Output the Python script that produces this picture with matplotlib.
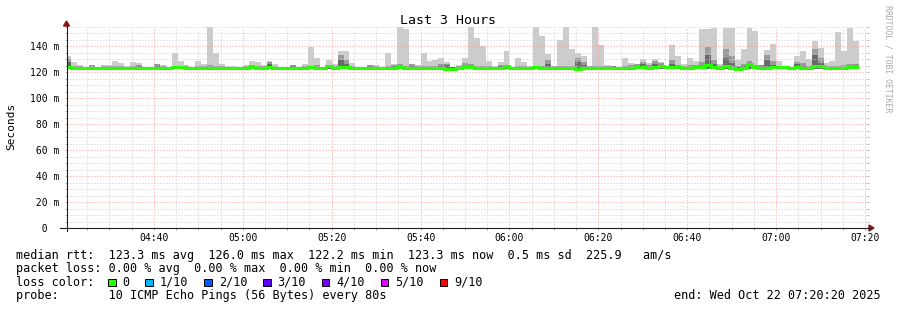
import numpy as np
import matplotlib
matplotlib.use('Agg')
import matplotlib.pyplot as plt
from matplotlib.lines import Line2D
from matplotlib.patches import Rectangle, Polygon

# SmokePing "Last 3 Hours" graph, times in minutes after 04:00
t_start = 20 + 20 / 60      # 04:20:20
t_end = 200 + 20 / 60       # 07:20:20
step_start = 20.0           # first 80 s step starts 04:20:00
step_len = 80 / 60

# smoke (spread of the 10 pings) per 80 s step, in ms
rtt_hi = [
    132.5, 128.0, 125.5, 124.0, 125.5, 124.0, 125.5, 125.5, 128.7, 127.0,
    124.5, 127.6, 127.0, 124.0, 124.0, 126.4, 125.5, 124.0, 134.4, 128.7,
    125.6, 124.0, 128.7, 126.0, 154.4, 134.9, 126.0, 124.5, 124.6, 124.0,
    125.5, 128.7, 127.6, 125.5, 128.2, 126.0, 124.0, 124.0, 125.5, 124.0,
    126.0, 139.5, 131.0, 124.0, 129.0, 126.4, 136.2, 136.2, 127.0, 124.0,
    124.0, 125.5, 125.5, 124.0, 134.4, 126.0, 154.4, 153.4, 126.4, 125.6,
    135.0, 128.7, 129.0, 130.5, 128.0, 124.0, 125.5, 130.5, 154.4, 146.0,
    140.0, 128.7, 124.6, 128.0, 136.4, 124.0, 130.8, 128.0, 124.6, 154.4,
    148.0, 134.0, 124.6, 144.6, 154.4, 138.0, 134.4, 132.0, 124.6, 154.4,
    140.8, 125.5, 125.0, 124.0, 131.0, 127.0, 126.4, 130.0, 127.0, 129.7,
    128.0, 124.0, 140.8, 132.0, 126.4, 131.0, 128.7, 153.4, 153.4, 153.6,
    126.5, 153.6, 153.6, 129.0, 138.0, 154.0, 151.6, 125.5, 137.0, 141.5,
    128.5, 125.0, 124.0, 132.3, 136.2, 130.0, 144.0, 138.5, 126.6, 128.7,
    151.0, 135.8, 154.0, 143.5,
]
rtt_mid = [
    130.0, 125.0, 124.5, 124.2, 125.5, 124.2, 124.5, 124.5, 125.0, 124.5,
    124.2, 125.0, 125.5, 124.2, 124.2, 126.4, 125.0, 124.2, 125.0, 124.5,
    124.5, 124.2, 125.0, 124.5, 125.5, 125.0, 124.5, 124.2, 124.2, 124.2,
    124.5, 125.5, 124.5, 124.8, 128.0, 124.5, 124.2, 124.2, 125.5, 124.2,
    124.5, 125.0, 125.5, 124.2, 125.0, 124.5, 133.0, 129.0, 125.0, 124.2,
    124.2, 125.5, 124.5, 124.2, 125.0, 125.5, 126.0, 125.0, 126.0, 124.5,
    125.0, 124.5, 125.0, 126.5, 126.5, 124.2, 124.5, 127.0, 126.0, 125.0,
    124.5, 124.5, 124.2, 125.5, 125.0, 124.2, 125.0, 124.5, 124.2, 125.0,
    125.0, 129.0, 124.5, 125.0, 125.0, 125.0, 130.5, 128.0, 124.5, 125.0,
    125.0, 124.5, 125.0, 124.2, 125.0, 125.5, 126.0, 127.5, 125.5, 128.7,
    127.0, 124.2, 129.0, 125.5, 125.0, 125.5, 125.5, 128.0, 139.0, 129.0,
    124.5, 137.8, 132.0, 125.0, 126.5, 128.6, 125.5, 125.5, 133.0, 128.6,
    124.5, 124.2, 124.2, 128.0, 127.0, 125.0, 137.7, 131.0, 124.5, 125.0,
    125.0, 125.5, 126.0, 126.0,
]
rtt_dark = [
    128.0, 123.8, 123.8, 123.8, 124.2, 123.8, 123.8, 123.8, 124.0, 123.8,
    123.8, 124.0, 124.5, 123.8, 123.8, 125.0, 124.0, 123.8, 124.0, 123.8,
    123.8, 123.8, 124.0, 123.8, 124.0, 124.0, 123.8, 123.8, 123.8, 123.8,
    123.8, 124.0, 123.8, 124.0, 126.0, 123.8, 123.8, 123.8, 124.5, 123.8,
    123.8, 124.0, 124.0, 123.8, 124.0, 123.8, 129.0, 126.0, 124.0, 123.8,
    123.8, 124.5, 123.8, 123.8, 124.0, 124.5, 124.5, 124.0, 125.0, 123.8,
    124.0, 123.8, 124.0, 125.0, 125.5, 123.8, 123.8, 125.0, 124.5, 124.0,
    123.8, 123.8, 123.8, 124.5, 124.0, 123.8, 124.0, 123.8, 123.8, 124.0,
    124.0, 126.0, 123.8, 124.0, 124.0, 124.0, 128.0, 125.5, 123.8, 124.0,
    124.0, 123.8, 124.5, 123.8, 124.0, 124.0, 125.0, 126.0, 124.0, 126.0,
    125.5, 123.8, 126.0, 124.0, 124.0, 124.0, 124.0, 125.0, 133.0, 126.0,
    123.8, 131.0, 127.0, 124.0, 125.0, 126.0, 124.0, 124.5, 129.0, 125.5,
    123.8, 123.8, 123.8, 126.0, 125.0, 124.0, 133.0, 127.0, 123.8, 124.0,
    124.0, 124.0, 124.5, 124.5,
]
rtt_median = [
    123.5, 123.2, 123.0, 123.1, 123.3, 123.1, 123.2, 123.3, 123.2, 123.0,
    123.1, 123.3, 123.2, 123.0, 123.1, 123.4, 123.3, 123.2, 124.2, 123.5,
    123.2, 123.0, 123.3, 123.2, 123.4, 123.3, 123.1, 123.0, 123.2, 123.0,
    123.3, 123.5, 123.3, 123.4, 123.6, 123.3, 123.1, 123.0, 123.2, 123.0,
    123.2, 123.5, 123.3, 123.4, 125.0, 123.4, 124.0, 123.8, 123.3, 123.1,
    123.0, 123.2, 123.3, 123.2, 123.4, 123.3, 123.6, 123.3, 123.2, 123.0,
    123.3, 123.2, 123.1, 123.3, 122.6, 122.2, 123.0, 123.8, 123.5, 123.3,
    123.2, 123.1, 123.0, 123.2, 124.3, 123.4, 123.3, 123.2, 123.0, 123.5,
    123.3, 123.2, 123.0, 123.1, 123.2, 123.0, 122.6, 123.2, 123.0, 123.3,
    123.2, 123.1, 123.0, 123.1, 123.3, 123.4, 123.5, 123.6, 123.4, 123.8,
    124.6, 124.0, 123.8, 123.5, 123.3, 123.4, 123.6, 123.8, 125.6, 123.6,
    122.8, 124.3, 123.4, 122.6, 123.4, 126.0, 124.0, 122.8, 123.4, 124.0,
    124.2, 123.6, 123.2, 123.5, 123.4, 123.3, 124.5, 124.6, 123.4, 123.3,
    123.2, 123.4, 124.0, 123.5,
]
rtt_floor = 122.4

x_ticks = [40, 60, 80, 100, 120, 140, 160, 180, 200]
x_labels = ["04:40", "05:00", "05:20", "05:40", "06:00", "06:20", "06:40", "07:00", "07:20"]
y_ticks = [0, 20, 40, 60, 80, 100, 120, 140]
y_labels = ["  0", " 20 m", " 40 m", " 60 m", " 80 m", "100 m", "120 m", "140 m"]

loss_labels = ["0", "1/10", "2/10", "3/10", "4/10", "5/10", "9/10"]
loss_colors = ["#26ff00", "#00b8ff", "#0059ff", "#5e00ff", "#7e00ff", "#dd00ff", "#ff0000"]

stat_line = "median rtt:  123.3 ms avg  126.0 ms max  122.2 ms min  123.3 ms now  0.5 ms sd  225.9   am/s"
loss_line = "packet loss: 0.00 % avg  0.00 % max  0.00 % min  0.00 % now"
color_line = "loss color:"
probe_line = "probe:       10 ICMP Echo Pings (56 Bytes) every 80s"
end_line = "end: Wed Oct 22 07:20:20 2025"

W, H = 897, 310
MONO = 'DejaVu Sans Mono'


def fx(x):
    return x / W


def fy(y):
    return 1 - y / H


fig = plt.figure(figsize=(W / 100, H / 100), dpi=100)
fig.patch.set_facecolor('white')
ax = fig.add_axes([fx(66.5), fy(228), 800 / W, 201.5 / H])
ax.set_xlim(t_start, t_end)
ax.set_ylim(0, 155)
for s in ax.spines.values():
    s.set_visible(False)

# smoke + median
edges = step_start + step_len * np.arange(len(rtt_hi) + 1)
floor = np.full(len(rtt_hi), rtt_floor)
ax.stairs(rtt_hi, edges, baseline=floor, fill=True, color='#cccccc', lw=0)
ax.stairs(rtt_mid, edges, baseline=floor, fill=True, color='#9a9a9a', lw=0)
ax.stairs(rtt_dark, edges, baseline=floor, fill=True, color='#6a6a6a', lw=0)
ax.stairs(rtt_median, edges, baseline=None, color='#26ff00', lw=2.2, zorder=3)

# grid
ax.set_xticks(x_ticks)
ax.set_xticklabels(x_labels)
ax.set_xticks(np.arange(25, 201, 5), minor=True)
ax.set_yticks(y_ticks)
ax.set_yticklabels(y_labels)
ax.set_yticks(np.arange(5, 156, 5), minor=True)
ax.set_axisbelow(False)
ax.grid(which='major', color='#ff9c9c', linestyle=(0, (1, 2)), linewidth=0.72)
ax.grid(which='minor', color='#cfcfcf', linestyle=(0, (1, 2)), linewidth=0.72)
ax.tick_params(which='both', direction='out', length=1.44, width=0.72,
               color='#b0b0b0', labelsize=7, labelfontfamily=MONO)
ax.tick_params(axis='y', which='both', left=True, right=True)
ax.tick_params(axis='x', pad=2.2)
ax.tick_params(axis='y', pad=24.8)
for lbl in ax.get_yticklabels():
    lbl.set_horizontalalignment('left')

# axes with arrows
fig.add_artist(Line2D([fx(60), fx(870)], [fy(228), fy(228)], color='#202020', lw=0.8))
fig.add_artist(Line2D([fx(66.5), fx(66.5)], [fy(231), fy(25)], color='#202020', lw=0.8))
fig.add_artist(Polygon([(fx(869), fy(225)), (fx(869), fy(231)), (fx(874), fy(228))],
                       closed=True, color='#901414', transform=fig.transFigure))
fig.add_artist(Polygon([(fx(63.5), fy(26)), (fx(69.5), fy(26)), (fx(66.5), fy(21))],
                       closed=True, color='#901414', transform=fig.transFigure))

# titles
fig.text(fx(448), fy(20), "Last 3 Hours", family=MONO, fontsize=9.5, ha='center', va='center')
fig.text(fx(11), fy(126.5), "Seconds", family=MONO, fontsize=8, rotation=90,
         ha='center', va='center')
fig.text(fx(888), fy(59), "RRDTOOL / TOBI OETIKER", family=MONO, fontsize=5.9,
         rotation=270, ha='center', va='center', color='#ababab')

# legend rows
rows = [258.5, 272.1, 285.7, 299.3]
fig.text(fx(15.5), fy(rows[0]), stat_line, family=MONO, fontsize=8.5, va='baseline')
fig.text(fx(15.5), fy(rows[1]), loss_line, family=MONO, fontsize=8.5, va='baseline')
fig.text(fx(15.5), fy(rows[2]), color_line, family=MONO, fontsize=8.5, va='baseline')
fig.text(fx(15.5), fy(rows[3]), probe_line, family=MONO, fontsize=8.5, va='baseline')
fig.text(fx(881), fy(rows[3]), end_line, family=MONO, fontsize=8.5, va='baseline', ha='right')

cw = 7.14
sx = 108.0
for lab, col in zip(loss_labels, loss_colors):
    fig.add_artist(Rectangle((fx(sx), fy(286)), 7.5 / W, 7.5 / H, facecolor=col,
                             edgecolor='black', lw=0.7, transform=fig.transFigure))
    lx = sx + 14.5
    fig.text(fx(lx), fy(rows[2]), lab, family=MONO, fontsize=8.5, va='baseline')
    sx = lx + (len(lab) + 2) * cw + 1.5

fig.savefig('out.png', dpi=100)
